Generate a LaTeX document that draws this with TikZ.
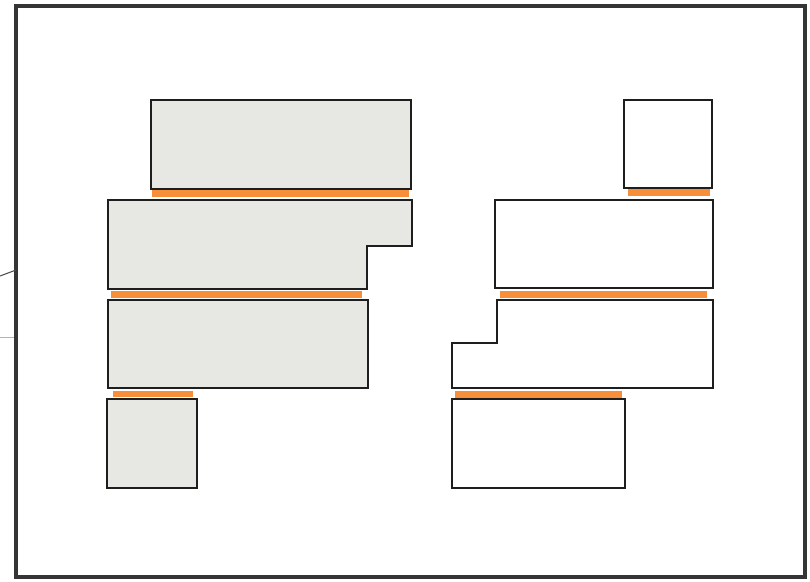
\documentclass[tikz,border=0pt]{standalone}
\usepackage{tikz}
\usepackage{xcolor}
\definecolor{slab}{RGB}{231,231,227}
\definecolor{accent}{RGB}{247,143,58}
\definecolor{edge}{RGB}{30,30,30}

\begin{document}
\begin{tikzpicture}[x=0.02cm, y=-0.02cm,
    block/.style={draw=edge, line width=1.3pt, line join=miter},
    shaded/.style={block, fill=slab},
    joint/.style={fill=accent, draw=none}]
        \useasboundingbox (0,0) rectangle (810,581);
        % outer frame
        \draw[edge!90, line width=2.4pt] (16,6) rectangle (805,577);
        \draw[black!70, line width=0.6pt] (0,276) -- (16,270);
        \draw[gray!60, line width=0.5pt] (0,337) -- (14,337);
        % left stack
        \draw[shaded] (151,100) rectangle (411,189);
        \fill[joint] (152,190) rectangle (409,197);
        \draw[shaded] (108,200) -- (412,200) -- (412,246) -- (367,246)
              -- (367,289) -- (108,289) -- cycle;
        \fill[joint] (111,291) rectangle (362,298);
        \draw[shaded] (108,300) rectangle (368,388);
        \fill[joint] (113,391) rectangle (193,397);
        \draw[shaded] (107,399) rectangle (197,488);
        % right stack
        \draw[block] (624,100) rectangle (712,188);
        \fill[joint] (628,189) rectangle (710,196);
        \draw[block] (495,200) rectangle (713,288);
        \fill[joint] (500,291) rectangle (707,298);
        \draw[block] (497,300) -- (713,300) -- (713,388) -- (452,388)
              -- (452,343) -- (497,343) -- cycle;
        \fill[joint] (455,391) rectangle (622,398);
        \draw[block] (452,399) rectangle (625,488);
\end{tikzpicture}
\end{document}
